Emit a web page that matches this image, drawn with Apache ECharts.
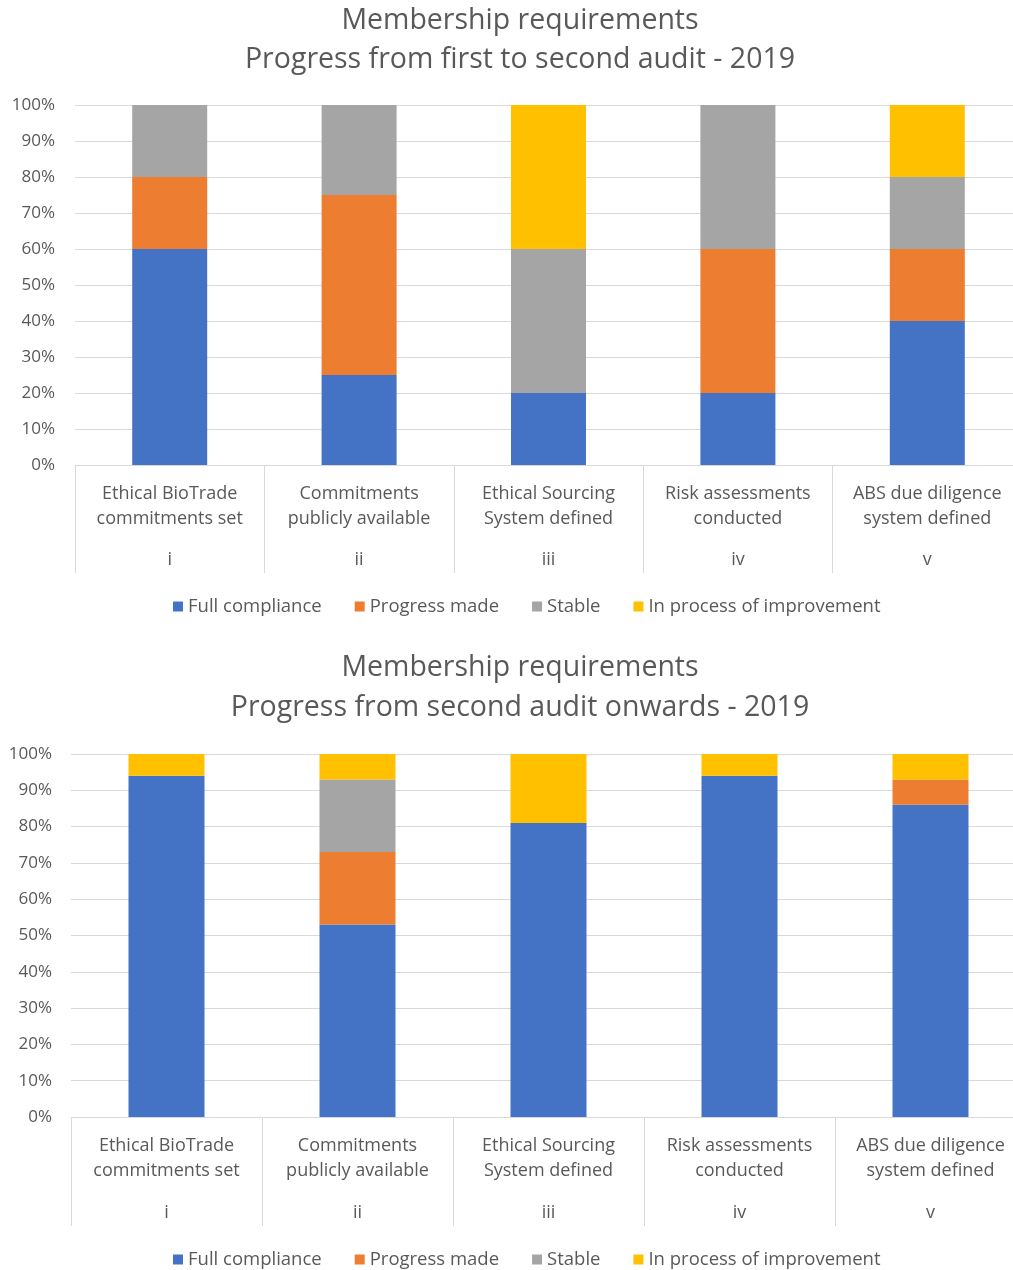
<!DOCTYPE html>
<html>
<head>
<meta charset="utf-8">
<title>Membership requirements - 2019</title>
<script src="https://cdn.jsdelivr.net/npm/echarts@6/dist/echarts.min.js"></script>
<style>
  html, body { margin: 0; padding: 0; background: #ffffff; overflow: hidden; }
  #chart { width: 1040px; height: 1270px; }
</style>
</head>
<body>
<div id="chart"></div>
<script>
// Requirement names (first label row) and their roman numerals (second label row)
const categories = [
  'Ethical BioTrade\ncommitments set',
  'Commitments\npublicly available',
  'Ethical Sourcing\nSystem defined',
  'Risk assessments\nconducted',
  'ABS due diligence\nsystem defined'
];
const numerals = ['i', 'ii', 'iii', 'iv', 'v'];
const seriesNames = ['Full compliance', 'Progress made', 'Stable', 'In process of improvement'];
const yTicks = [0, 10, 20, 30, 40, 50, 60, 70, 80, 90, 100];

// Share of members (%) — first to second audit
const firstFull        = [60, 25, 20, 20, 40];
const firstProgress    = [20, 50, 0, 40, 20];
const firstStable      = [20, 25, 40, 40, 20];
const firstImprovement = [0, 0, 40, 0, 20];

// Share of members (%) — second audit onwards
const secondFull        = [94, 53, 81, 94, 86];
const secondProgress    = [0, 20, 0, 0, 7];
const secondStable      = [0, 20, 0, 0, 0];
const secondImprovement = [6, 7, 19, 6, 7];

const colors = ['#4472C4', '#ED7D31', '#A5A5A5', '#FFC000'];
const FONT = '"Open Sans", sans-serif';
const TEXT = '#595959';
const LINE = '#d9d9d9';

function makeXAxes(gridIndex, tickLen, numeralMargin) {
  return [
    {
      type: 'category', gridIndex: gridIndex, data: categories,
      axisLine: { lineStyle: { color: LINE, width: 1 } },
      axisTick: { show: true, interval: 0, length: tickLen, lineStyle: { color: LINE, width: 1 } },
      axisLabel: { interval: 0, margin: 16, color: TEXT, fontFamily: FONT, fontSize: 18, lineHeight: 25 }
    },
    {
      type: 'category', gridIndex: gridIndex, data: numerals, position: 'bottom',
      axisLine: { show: false }, axisTick: { show: false }, splitLine: { show: false },
      axisLabel: { interval: 0, margin: numeralMargin, color: TEXT, fontFamily: FONT, fontSize: 18, lineHeight: 20 }
    }
  ];
}

function makeYAxis(gridIndex, margin) {
  return {
    type: 'value', gridIndex: gridIndex, min: yTicks[0], max: yTicks[yTicks.length - 1], interval: 10,
    axisLine: { show: false }, axisTick: { show: false },
    splitLine: { lineStyle: { color: LINE, width: 1 } },
    axisLabel: { margin: margin, color: TEXT, fontFamily: FONT, fontSize: 17, formatter: '{value}%' }
  };
}

function makeSeries(values, xAxisIndex, yAxisIndex, stack, barWidth) {
  return values.map((v, i) => ({
    name: seriesNames[i], type: 'bar', stack: stack,
    xAxisIndex: xAxisIndex, yAxisIndex: yAxisIndex,
    barWidth: barWidth, data: v,
    itemStyle: { color: colors[i] },
    emphasis: { disabled: true }
  }));
}

function makeLegend(top) {
  return {
    top: top, left: 168, data: seriesNames, icon: 'rect',
    itemWidth: 10, itemHeight: 10, itemGap: 33,
    textStyle: { color: TEXT, fontFamily: FONT, fontSize: 18.5 }
  };
}

function makeTitle(text, top, lineHeight) {
  return {
    text: text, left: 'center', top: top, padding: 0,
    textStyle: { color: TEXT, fontFamily: FONT, fontSize: 28.5, fontWeight: 'normal', lineHeight: lineHeight }
  };
}

const chart = echarts.init(document.getElementById('chart'), null, { renderer: 'canvas' });

chart.setOption({
  animation: false,
  color: colors,
  title: [
    makeTitle('Membership requirements\nProgress from first to second audit - 2019', 1, 39),
    makeTitle('Membership requirements\nProgress from second audit onwards - 2019', 648, 40)
  ],
  legend: [makeLegend(592), makeLegend(1245)],
  grid: [
    { left: 75, top: 105, width: 947, height: 360 },
    { left: 71, top: 754, width: 955, height: 363 }
  ],
  xAxis: [...makeXAxes(0, 108, 85), ...makeXAxes(1, 109, 86)],
  yAxis: [makeYAxis(0, 20), makeYAxis(1, 19)],
  series: [
    ...makeSeries([firstFull, firstProgress, firstStable, firstImprovement], 0, 0, 'first', 75),
    ...makeSeries([secondFull, secondProgress, secondStable, secondImprovement], 2, 1, 'second', 76)
  ]
});
</script>
</body>
</html>
